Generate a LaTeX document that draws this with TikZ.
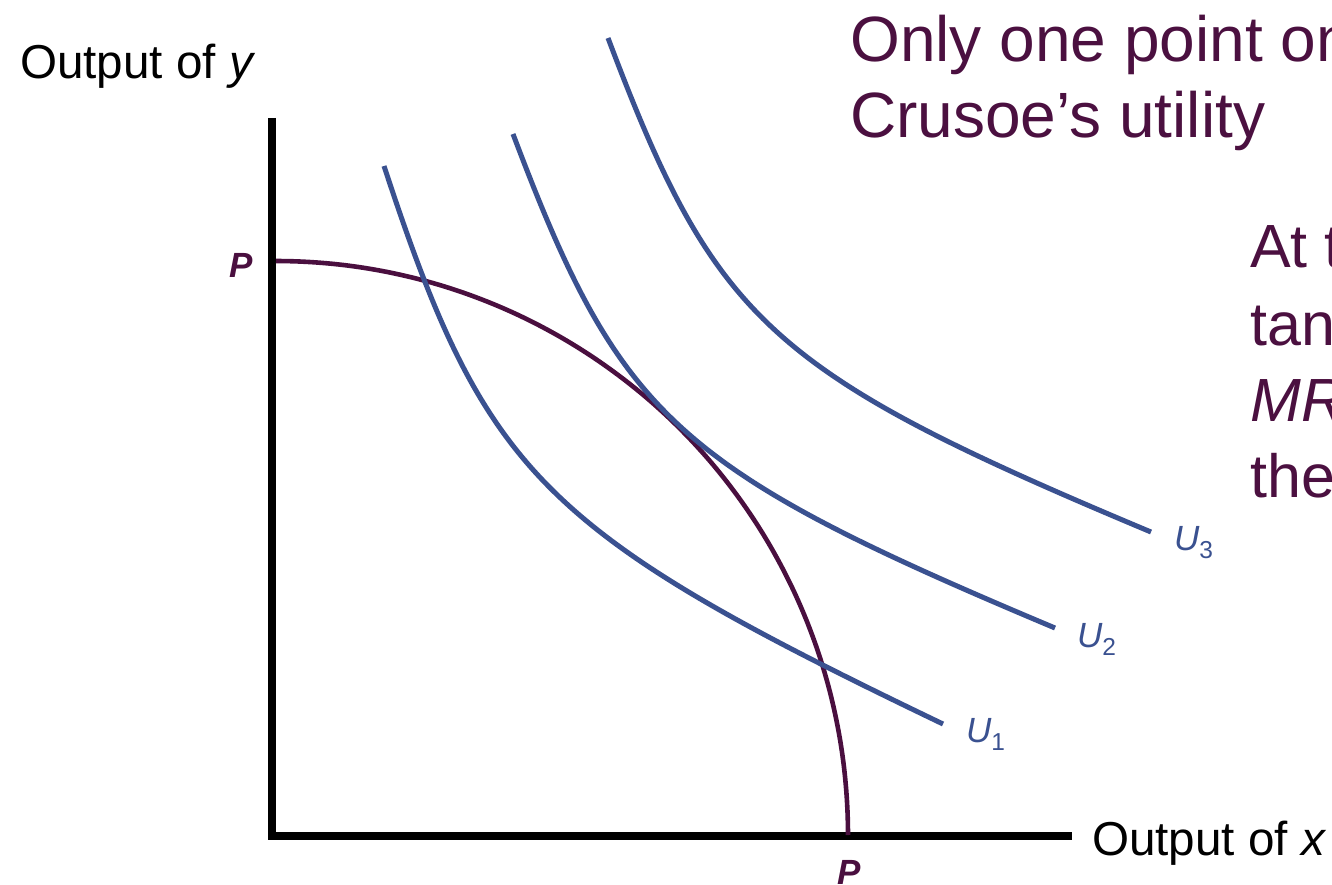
\documentclass[tikz,border=0pt]{standalone}
\usepackage{fontspec}
\setmainfont{Liberation Sans}
\definecolor{ppfcol}{HTML}{4A0F3F}
\definecolor{txtcol}{HTML}{4B1040}
\definecolor{ucol}{HTML}{3A5190}
\begin{document}
\begin{tikzpicture}[x=1pt,y=-1pt,
  axisline/.style={line width=7.5pt,black},
  ucurve/.style={line width=5pt,ucol},
  ppfline/.style={line width=4.6pt,ppfcol},
  axlabel/.style={anchor=base west,inner sep=0pt,font=\fontsize{47.6}{57}\selectfont},
  bigtext/.style={anchor=base west,inner sep=0pt,text=txtcol,font=\fontsize{64}{76}\selectfont},
  sidetext/.style={anchor=base west,inner sep=0pt,text=txtcol,font=\fontsize{61}{76}\selectfont},
  plabel/.style={anchor=base west,inner sep=0pt,text=ppfcol,font=\fontsize{35}{40}\selectfont\bfseries\itshape},
  ulabel/.style={anchor=base west,inner sep=0pt,text=ucol,font=\fontsize{35}{40}\selectfont\itshape}]
\useasboundingbox (0,0) rectangle (1332,885);
\clip (0,0) rectangle (1332,885);
% axes
\coordinate (ytop) at (272,118);
\coordinate (origin) at (272,839.75);
\coordinate (oleft) at (268.25,836);
\coordinate (xend) at (1072,836);
\draw[axisline] (ytop) -- (origin);
\draw[axisline] (oleft) -- (xend);
% PPF
\coordinate (ppftop) at (276,261);
\coordinate (ppfbot) at (848,835);
\draw[ppfline] plot[domain=0:90,samples=80,smooth] ({276+572*sin(\x)},{835-574*cos(\x)});
% indifference curves
\coordinate (u1s) at (384,166);
\coordinate (u1e) at (943,724);
\draw[ucurve] (u1s) .. controls (485.7,475.6) and (541.6,531.4) .. (u1e);
\coordinate (u2s) at (513,134);
\coordinate (u2e) at (1055,628);
\draw[ucurve] (u2s) .. controls (620.5,418.8) and (674.7,468.2) .. (u2e);
\coordinate (u3s) at (608,38);
\coordinate (u3e) at (1151,532);
\draw[ucurve] (u3s) .. controls (715.5,322.8) and (769.7,372.2) .. (u3e);
% labels
\node[axlabel] (ylab) at (20,79) {Output of \textit{y}};
\node[axlabel] (xlab) at (1092,855) {Output of \textit{x}};
\node[plabel] (pleft) at (229,277) {P};
\node[plabel] (pbot) at (837,884) {P};
\node[ulabel] (lu1) at (966,742) {U\textsubscript{\upshape 1}};
\node[ulabel] (lu2) at (1077,647) {U\textsubscript{\upshape 2}};
\node[ulabel] (lu3) at (1174,550) {U\textsubscript{\upshape 3}};
\node[bigtext] (t1) at (850,62) {Only one point on};
\node[bigtext] (t2) at (850,138) {Crusoe’s utility};
\node[sidetext] (s1) at (1250,268) {At the};
\node[sidetext] (s2) at (1250,345) {tangency};
\node[sidetext] (s3) at (1250,421) {\itshape MRS};
\node[sidetext] (s4) at (1250,497) {the};
\end{tikzpicture}
\end{document}
